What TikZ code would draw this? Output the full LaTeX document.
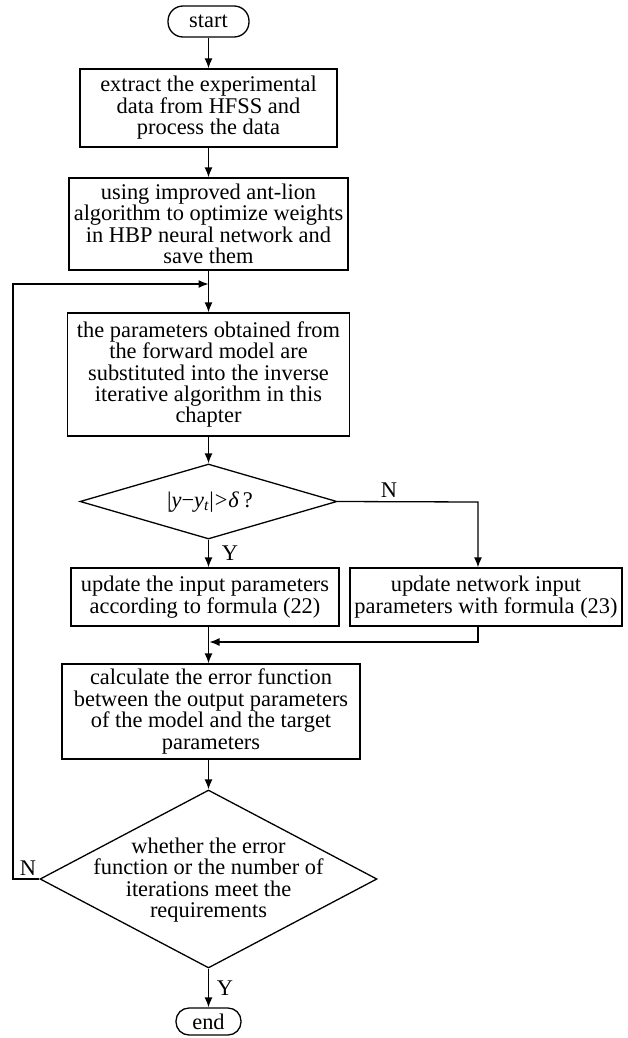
\documentclass[tikz,border=0pt]{standalone}
\usepackage{fontspec}
\setmainfont{Liberation Serif}
\usetikzlibrary{arrows.meta,shapes.geometric}
\newcommand{\fcfont}{\fontsize{22.4}{21.4}\selectfont}
\tikzset{
  ln/.style={line width=1.3pt, draw=black},
  arr/.style={ln, -{Latex[length=10pt,width=8pt]}},
  box/.style={draw, line width=1.3pt, align=center, inner sep=0pt, font=\fcfont},
  term/.style={draw, line width=1.3pt, align=center, inner sep=0pt, font=\fcfont},
  dia/.style={draw, diamond, line width=1.3pt, inner sep=0pt},
  txt/.style={align=center, inner sep=0pt, font=\fcfont},
  lab/.style={inner sep=0pt, font=\fcfont}
}
\begin{document}
\begin{tikzpicture}[x=1pt,y=-1pt]
\useasboundingbox (0,0) rectangle (627,1038);
\fill[white] (0,0) rectangle (627,1038);

\node[term, rounded corners=15pt, minimum width=81pt, minimum height=31pt] (start) at (208.5,21.5) {start};
\node[box, minimum width=257pt, minimum height=78pt] (b1) at (208.5,108) {extract the experimental\\data from HFSS and\\process the data};
\node[box, minimum width=279pt, minimum height=92pt] (b2) at (208.5,224) {using improved ant-lion\\algorithm to optimize weights\\in HBP neural network and\\save them};
\node[box, minimum width=282pt, minimum height=123pt] (b3) at (208.5,374.5) {the parameters obtained from\\the forward model are\\substituted into the inverse\\iterative algorithm in this\\chapter};
\node[dia, minimum width=257pt, minimum height=75pt] (d1) at (208.5,501.5) {};
\node[txt] (d1t) at (210,502) {|\textit{y}−\textit{y}\textsubscript{\textit{t}}|\kern1pt>\kern1pt\textit{δ}\,?};
\node[box, minimum width=268pt, minimum height=58pt] (L) at (205,597) {update the input parameters\\according to formula (22)};
\node[box, minimum width=272pt, minimum height=58pt] (R) at (486,597) {update network input\\parameters with formula (23)};
\node[box, minimum width=298pt, minimum height=95pt] (calc) at (211,711.5) {calculate the error function\\between the output parameters\\of the model and the target\\parameters};
\node[dia, minimum width=337pt, minimum height=178pt] (d2) at (208.5,879) {};
\node[txt] (d2t) at (208.5,880) {whether the error\\function or the number of\\iterations meet the\\requirements};
\node[term, rounded corners=13pt, minimum width=65pt, minimum height=27pt] (end) at (208.5,1021.5) {end};

\coordinate (j1) at (208.5,284);
\coordinate (j2) at (209.5,642);
\coordinate (lp) at (13,879);
\coordinate (lt) at (13,284);
\coordinate (rc) at (478,502);
\coordinate (rb) at (478,642);

\draw[arr] (start) -- (b1);
\draw[arr] (b1) -- (b2);
\draw[arr] (b2) -- (b3);
\draw[arr] (b3) -- (d1);
\draw[arr] (d1.south) -- (L.north -| d1.south);
\draw[arr] (d1.east) -- (rc) -- (R.north -| rc);
\draw[arr] (L.south -| d1.south) -- (calc.north -| d1.south);
\draw[arr] (R.south -| rb) -- (rb) -- (j2);
\draw[arr] (calc.south -| d2.north) -- (d2.north);
\draw[arr] (d2.south) -- (end);
\draw[arr] (d2.west) -- (lp) -- (lt) -- (j1);

\node[lab] (n1) at (389,490) {N};
\node[lab] (y1) at (230,553) {Y};
\node[lab] (n2) at (28,868) {N};
\node[lab] (y2) at (225,988) {Y};
\end{tikzpicture}
\end{document}
